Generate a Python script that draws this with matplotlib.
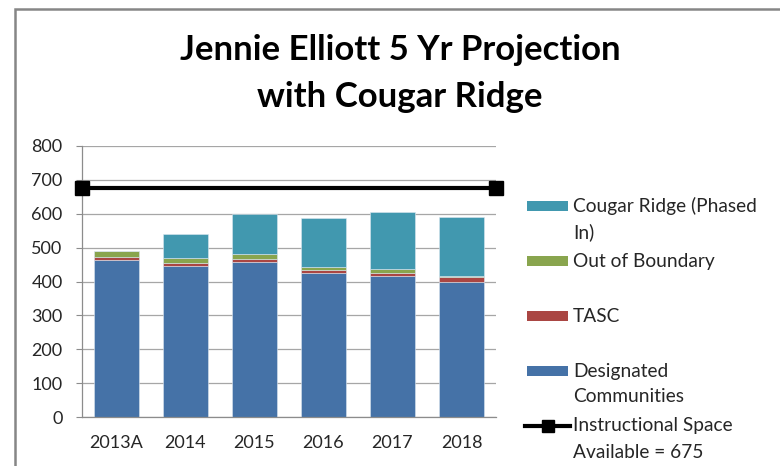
import numpy as np
import matplotlib
matplotlib.use('Agg')
import matplotlib.pyplot as plt
from matplotlib.patches import Rectangle
from matplotlib.lines import Line2D

plt.rcParams['font.family'] = ['Lato', 'DejaVu Sans']

# data
years = ['2013A', '2014', '2015', '2016', '2017', '2018']
designated = [464, 445, 457, 424, 416, 400]
tasc = [9, 9, 10, 10, 9, 12]
out_of_boundary = [18, 15, 15, 10, 11, 5]
cougar_ridge = [0, 71, 117, 143, 170, 174]
space_available = 675

series = [
    ('Designated\nCommunities', designated, '#4572A7'),
    ('TASC', tasc, '#AA4643'),
    ('Out of Boundary', out_of_boundary, '#89A54E'),
    ('Cougar Ridge (Phased\nIn)', cougar_ridge, '#4198AF'),
]
line_label = 'Instructional Space\nAvailable = 675'

W, H = 780, 466
def fx(px):
    return px / W
def fy(py):
    return 1 - py / H

fig = plt.figure(figsize=(7.8, 4.66), dpi=100)
ax = fig.add_axes([fx(82), fy(417), fx(496) - fx(82), fy(146) - fy(417)])

x = np.arange(len(years))
bottom = np.zeros(len(years))
for name, vals, col in series:
    ax.bar(x, vals, 0.65, bottom=bottom, color=col, edgecolor='#dbe6f0', linewidth=0.4, zorder=2)
    bottom += np.array(vals)

# capacity line across the whole plot
ax.plot([-0.5, len(years) - 0.5], [space_available, space_available], color='black', lw=3,
        marker='s', markersize=10, clip_on=False, zorder=4)

ax.set_xlim(-0.5, len(years) - 0.5)
ax.set_ylim(0, 800)
ax.set_yticks(range(0, 801, 100))
ax.set_xticks(x)
ax.set_xticklabels(years)
ax.yaxis.grid(True, color='#a6a6a6', lw=0.9, zorder=0)
ax.set_axisbelow(True)
for s in ['top', 'right']:
    ax.spines[s].set_visible(False)
for s in ['left', 'bottom']:
    ax.spines[s].set_color('#8c8c8c')
    ax.spines[s].set_linewidth(0.9)
ax.tick_params(axis='y', length=4, color='#8c8c8c', labelsize=13, labelcolor='#262626', pad=10)
ax.tick_params(axis='x', length=0, labelsize=13, labelcolor='#262626', pad=13)

# title
fig.text(fx(400), fy(50), 'Jennie Elliott 5 Yr Projection', ha='center', va='center',
         fontsize=25, fontweight='bold', color='black')
fig.text(fx(400), fy(97), 'with Cougar Ridge', ha='center', va='center',
         fontsize=25, fontweight='bold', color='black')

# legend, drawn Excel style (key aligned with first text line)
fs_leg = 13.8
entries = [(s[0], s[2]) for s in series[::-1]]
y0, step, lh = 206, 55, 26
for i, (name, col) in enumerate(entries):
    yy = y0 + i * step
    fig.patches.append(Rectangle((fx(527), fy(yy + 5)), fx(568) - fx(527), fy(yy - 5) - fy(yy + 5),
                                 transform=fig.transFigure, facecolor=col, edgecolor='none'))
    for j, line in enumerate(name.split('\n')):
        fig.text(fx(573), fy(yy + j * lh), line, ha='left', va='center', fontsize=fs_leg, color='#262626')
yy = y0 + len(entries) * step
fig.lines.append(Line2D([fx(525), fx(570)], [fy(yy), fy(yy)], transform=fig.transFigure,
                        color='black', lw=3))
fig.lines.append(Line2D([fx(548)], [fy(yy)], transform=fig.transFigure, color='black',
                        marker='s', markersize=9, lw=0))
for j, line in enumerate(line_label.split('\n')):
    fig.text(fx(573), fy(yy + j * lh), line, ha='left', va='center', fontsize=fs_leg, color='#262626')

# outer chart border (left and top visible)
fig.patches.append(Rectangle((fx(15), fy(480)), fx(800) - fx(15), fy(9) - fy(480),
                             transform=fig.transFigure, facecolor='none', edgecolor='#868686', lw=1.8,
                             clip_on=False))

fig.savefig('out.png', dpi=100)
